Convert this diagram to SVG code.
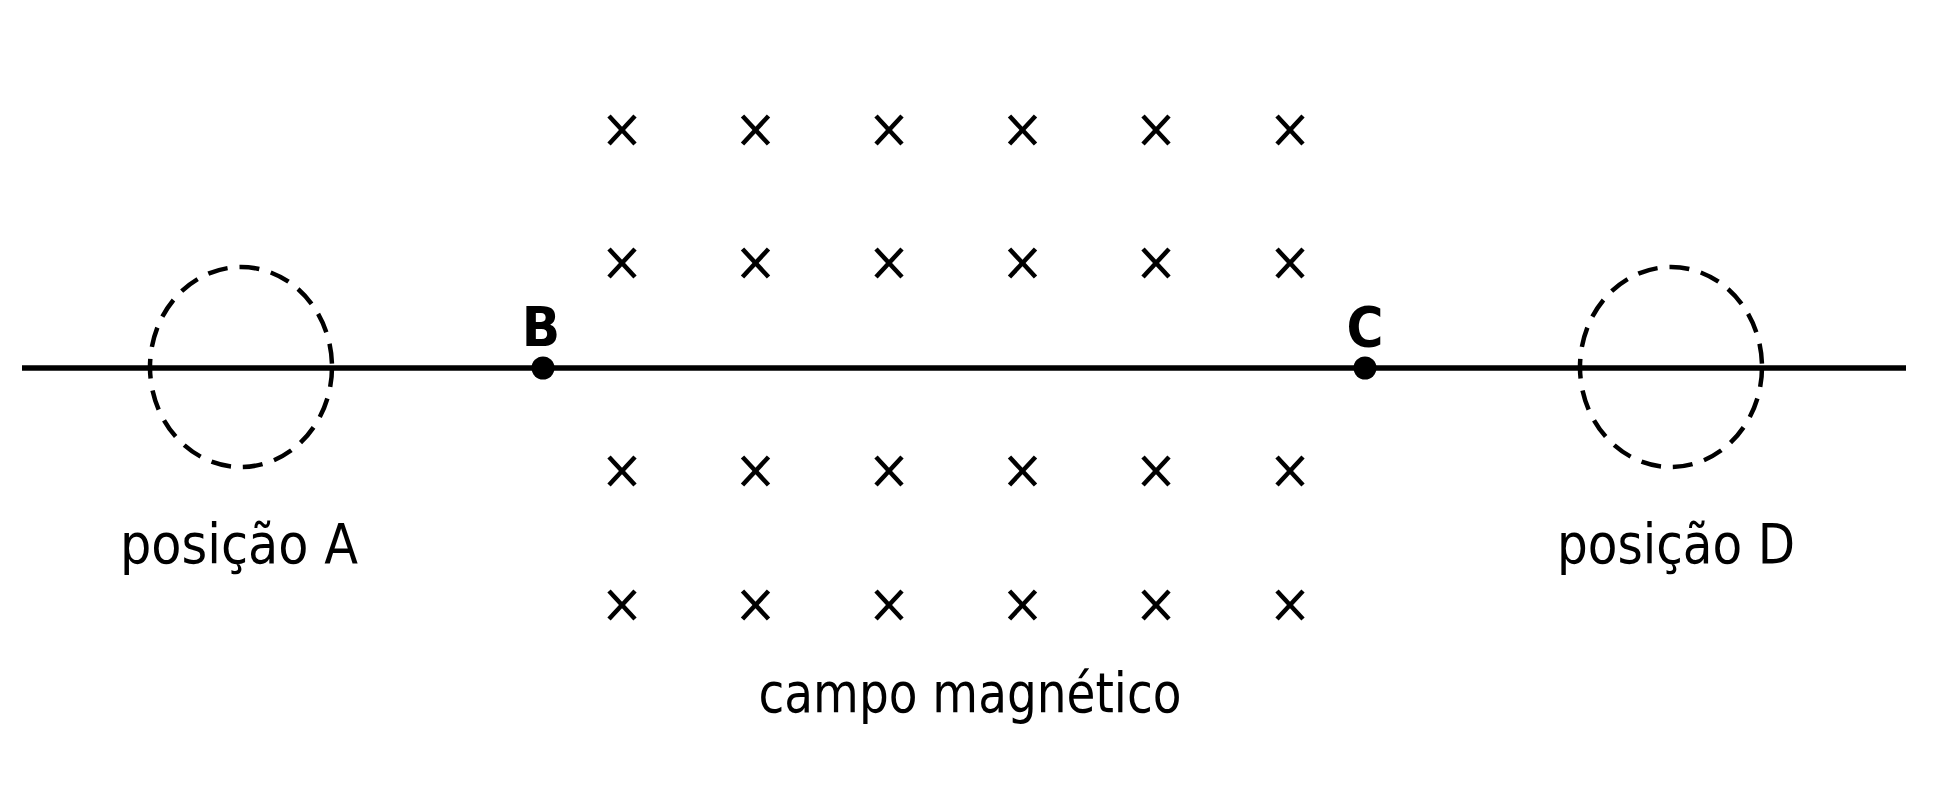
<svg xmlns="http://www.w3.org/2000/svg" width="1942" height="809" viewBox="0 0 1942 809">
<style>
.lbl{font-family:"DejaVu Sans","Liberation Sans",sans-serif;font-size:56px;fill:#000;font-stretch:condensed}
.pt{font-family:"DejaVu Sans","Liberation Sans",sans-serif;font-size:56px;font-weight:bold;fill:#000;font-stretch:condensed}
.x{stroke:#000;stroke-width:4.5;fill:none}
.ring{fill:none;stroke:#000;stroke-width:4.5;stroke-dasharray:20 12}
</style>
<defs>
<g id="cross"><line class="x" x1="-13" y1="-14" x2="13" y2="14"/><line class="x" x1="13" y1="-14" x2="-13" y2="14"/></g>
</defs>
<rect width="1942" height="809" fill="#fff"/>
<g id="connectors">
<line x1="22" y1="368" x2="1906" y2="368" stroke="#000" stroke-width="5.5"/>
</g>
<g id="posA">
<ellipse class="ring" cx="241" cy="367" rx="91" ry="100"/>
<text class="lbl" x="239" y="563" text-anchor="middle" textLength="238" lengthAdjust="spacingAndGlyphs">posição A</text>
</g>
<g id="posD">
<ellipse class="ring" cx="1671" cy="367" rx="91" ry="100"/>
<text class="lbl" x="1676" y="563" text-anchor="middle" textLength="238" lengthAdjust="spacingAndGlyphs">posição D</text>
</g>
<g id="pointB">
<circle cx="543" cy="368" r="11.5" fill="#000"/>
<text class="pt" x="541" y="346" text-anchor="middle">B</text>
</g>
<g id="pointC">
<circle cx="1365" cy="368" r="11.5" fill="#000"/>
<text class="pt" x="1365" y="346" text-anchor="middle">C</text>
</g>
<g id="field">
<use href="#cross" x="622" y="130"/><use href="#cross" x="755.5" y="130"/><use href="#cross" x="889" y="130"/><use href="#cross" x="1022.5" y="130"/><use href="#cross" x="1156" y="130"/><use href="#cross" x="1290" y="130"/>
<use href="#cross" x="622" y="263"/><use href="#cross" x="755.5" y="263"/><use href="#cross" x="889" y="263"/><use href="#cross" x="1022.5" y="263"/><use href="#cross" x="1156" y="263"/><use href="#cross" x="1290" y="263"/>
<use href="#cross" x="622" y="471"/><use href="#cross" x="755.5" y="471"/><use href="#cross" x="889" y="471"/><use href="#cross" x="1022.5" y="471"/><use href="#cross" x="1156" y="471"/><use href="#cross" x="1290" y="471"/>
<use href="#cross" x="622" y="605"/><use href="#cross" x="755.5" y="605"/><use href="#cross" x="889" y="605"/><use href="#cross" x="1022.5" y="605"/><use href="#cross" x="1156" y="605"/><use href="#cross" x="1290" y="605"/>
<text class="lbl" x="970" y="712" text-anchor="middle" textLength="423" lengthAdjust="spacingAndGlyphs">campo magnético</text>
</g>
</svg>
